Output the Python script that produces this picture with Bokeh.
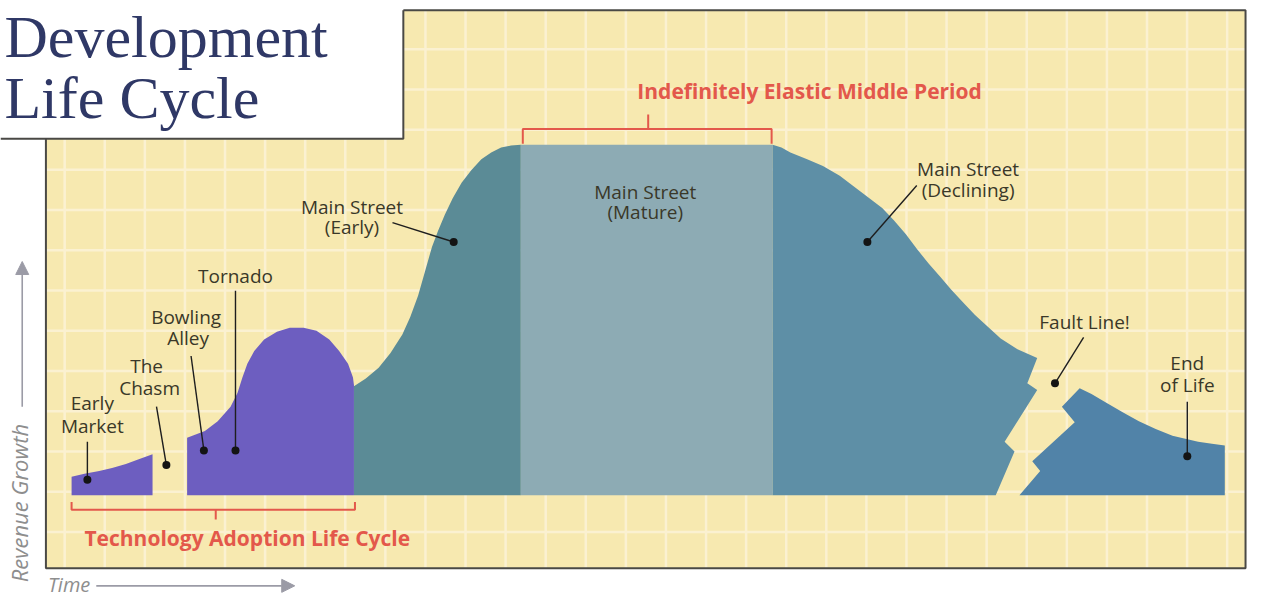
import math
from bokeh.plotting import figure
from bokeh.models import Range1d, Arrow, NormalHead
from bokeh.core.properties import value
from bokeh.embed import file_html
from bokeh.resources import INLINE

# ---------------- data (in picture units) ----------------
early_market_x = [72, 72, 85, 100, 113, 127, 140, 154, 154]
early_market_y = [508, 489, 486, 483, 480, 476, 471, 466, 508]

adoption_x = [189, 189, 207, 220, 233, 240, 245, 250, 257, 267, 280, 293, 307, 320, 333, 343, 352, 357, 358, 358]
adoption_y = [508, 449, 442, 432, 417, 403, 387, 373, 360, 348, 340, 336, 336, 339, 348, 360, 373, 387, 395, 508]

early_main_x = [358, 358, 370, 383, 395, 407, 415, 423, 430, 437, 443, 450, 458, 467, 477, 487, 497, 507, 517, 527, 527]
early_main_y = [508, 396, 388, 377, 362, 343, 325, 303, 278, 253, 237, 220, 203, 187, 174, 163, 156, 151, 149, 148, 508]

mature_x = [527, 527, 782, 782]
mature_y = [508, 148, 148, 508]

declining_x = [782, 782, 791, 800, 817, 833, 850, 867, 880, 893, 905, 917, 928, 940, 952, 963, 975, 987, 1000, 1013, 1030, 1050,
               1040, 1050, 1017, 1027, 1008]
declining_y = [508, 148, 151, 156, 163, 170, 180, 193, 203, 213, 226, 240, 255, 270, 284, 297, 310, 323, 335, 347, 358, 367,
               393, 400, 453, 463, 508]

end_x = [1032, 1053, 1045, 1088, 1075, 1093, 1105, 1120, 1137, 1153, 1170, 1187, 1200, 1213, 1227, 1240, 1240]
end_y = [508, 483, 473, 433, 417, 398, 404, 413, 423, 432, 440, 447, 450, 453, 455, 457, 508]

label_text = ["Early", "Market", "The", "Chasm", "Bowling", "Alley", "Tornado",
              "Main Street", "(Early)", "Main Street", "(Mature)", "Main Street", "(Declining)",
              "Fault Line!", "End", "of Life"]
label_x = [93, 93, 148, 151, 188, 190, 238, 356, 356, 653, 653, 980, 980, 1098, 1202, 1202]
label_y = [413, 437, 375, 398, 325, 347, 283, 212, 233, 197, 217, 173, 195, 330, 372, 395]

leader_x0 = [88, 158, 193, 238, 397, 928, 1097, 1202]
leader_y0 = [453, 417, 365, 298, 228, 190, 346, 412]
dot_x = [88, 168, 206, 238, 459, 878, 1068, 1202]
dot_y = [492, 477, 462, 462, 248, 248, 393, 468]

phase_text = ["Indefinitely Elastic Middle Period", "Technology Adoption Life Cycle"]
phase_x = [645, 85]
phase_y = [93, 552]

title_lines = ["Development", "Life Cycle"]
title_x = [4, 4]
title_y = [37, 100.5]

# ---------------- colours ----------------
YELLOW = "#F7E9B0"
GRIDC = "#FBF1D1"
PURPLE = "#6D5EC0"
TEAL_EARLY = "#5B8B96"
TEAL_MATURE = "#8DABB4"
TEAL_DECL = "#5E8FA6"
TEAL_END = "#5183A8"
RED = "#E3584B"
LABEL = "#3A3828"
GREY = "#8E8E8E"
BORDER = "#4A4945"

p = figure(width=1248, height=598, x_range=Range1d(0, 1264), y_range=Range1d(614, 0),
           output_backend="svg", toolbar_location=None, min_border=0,
           x_axis_location=None, y_axis_location=None)
p.xgrid.visible = False
p.ygrid.visible = False
p.outline_line_color = None
p.background_fill_color = "white"
p.border_fill_color = "white"

# yellow panel
p.patch([46, 408, 408, 1261, 1261, 46], [142, 142, 10, 10, 583, 583],
        fill_color=YELLOW, line_color=None)

# light grid inside panel
gx, gy = [], []
k = 0
while 65 + 40.6 * k < 1258:
    gx.append(65 + 40.6 * k)
    k += 1
k = 0
while 50 + 41.3 * k < 580:
    gy.append(50 + 41.3 * k)
    k += 1
vy0 = [142 if x < 408 else 10 for x in gx]
p.segment(x0=gx, y0=vy0, x1=gx, y1=[583] * len(gx), line_color=GRIDC, line_width=2.5)
hx0 = [408 if y < 142 else 46 for y in gy]
p.segment(x0=hx0, y0=gy, x1=[1261] * len(gy), y1=gy, line_color=GRIDC, line_width=2.5)

# shapes
p.patch(early_market_x, early_market_y, fill_color=PURPLE, line_color=None)
p.patch(adoption_x, adoption_y, fill_color=PURPLE, line_color=None)
p.patch(early_main_x, early_main_y, fill_color=TEAL_EARLY, line_color=None)
p.patch(mature_x, mature_y, fill_color=TEAL_MATURE, line_color=None)
p.patch(declining_x, declining_y, fill_color=TEAL_DECL, line_color=None)
p.patch(end_x, end_y, fill_color=TEAL_END, line_color=None)

# border of panel and title box
p.line([0, 408, 408], [142, 142, 10], line_color=BORDER, line_width=2)
p.line([408, 1261, 1261, 46, 46], [10, 10, 583, 583, 142], line_color=BORDER, line_width=2)

# brackets
p.line([529, 529, 781, 781], [147, 132, 132, 147], line_color=RED, line_width=2)
p.line([656, 656], [132, 117], line_color=RED, line_width=2)
p.line([72, 72, 359, 359], [515, 523, 523, 515], line_color=RED, line_width=2)
p.line([218, 218], [523, 533], line_color=RED, line_width=2)

# leaders and dots
p.segment(x0=leader_x0, y0=leader_y0, x1=dot_x, y1=dot_y, line_color="#1E1E1E", line_width=1.4)
p.scatter(dot_x, dot_y, size=8, fill_color="#141414", line_color=None)

# labels
p.text(x=label_x, y=label_y, text=label_text, text_align="center", text_baseline="middle",
       text_font=value("Open Sans"), text_font_size="19px", text_color=LABEL)

p.text(x=phase_x, y=phase_y, text=phase_text, text_align="left", text_baseline="middle",
       text_font=value("Open Sans"), text_font_size="21px", text_font_style="bold", text_color=RED)

# title
p.text(x=title_x, y=title_y, text=title_lines, text_align="left", text_baseline="middle",
       text_font=value("Liberation Serif"), text_font_size="60px", text_color="#2F3866")

# axis hints
p.text(x=[19], y=[516], text=["Revenue Growth"], angle=math.pi / 2, text_align="center",
       text_baseline="middle", text_font=value("Open Sans"), text_font_size="22px",
       text_font_style="italic", text_color=GREY)
p.text(x=[48], y=[600], text=["Time"], text_align="left", text_baseline="middle",
       text_font=value("Open Sans"), text_font_size="20px", text_font_style="italic", text_color=GREY)

AR = "#9B9BA6"
p.add_layout(Arrow(end=NormalHead(size=13, fill_color=AR, line_color=AR),
                   x_start=22, y_start=417, x_end=22, y_end=268, line_color=AR, line_width=1.6))
p.add_layout(Arrow(end=NormalHead(size=13, fill_color=AR, line_color=AR),
                   x_start=97, y_start=601, x_end=298, y_end=601, line_color=AR, line_width=1.6))

open("out.html", "w").write(file_html(p, INLINE))
